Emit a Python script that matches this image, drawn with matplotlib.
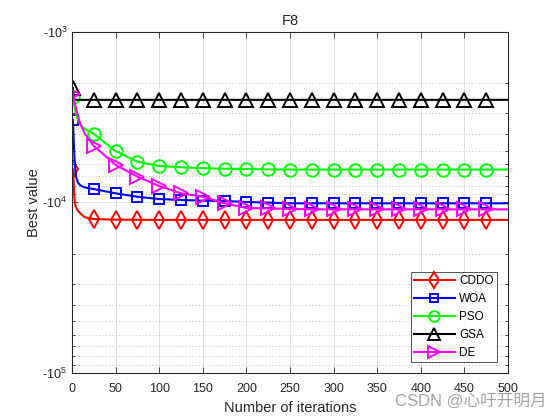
import matplotlib
matplotlib.use("Agg")
import matplotlib.pyplot as plt
from matplotlib.ticker import FixedLocator, LogLocator, NullFormatter

plt.rcParams['font.family'] = ['Liberation Sans', 'DejaVu Sans']
plt.rcParams['mathtext.fontset'] = 'custom'
plt.rcParams['mathtext.rm'] = 'Liberation Sans'
plt.rcParams['mathtext.it'] = 'Liberation Sans:italic'

# ---- data (best value per iteration) ----
iterations = [1, 2, 3, 4, 5, 7, 10, 15, 25, 50, 75, 100, 125, 150, 175, 200,
              225, 250, 275, 300, 325, 350, 375, 400, 425, 450, 475, 500]

cddo = [-6420, -7930, -9730, -10530, -10800, -11250, -11700, -12270, -12550,
        -12650, -12680, -12700, -12700, -12700, -12700, -12700, -12700, -12700,
        -12700, -12700, -12700, -12700, -12700, -12700, -12700, -12700, -12700, -12700]
woa = [-3300, -4400, -5700, -6700, -7200, -7700, -8000, -8200, -8370,
       -8870, -9290, -9580, -9700, -9800, -9830, -9980, -10050, -10150,
       -10150, -10150, -10150, -10150, -10150, -10150, -10150, -10150, -10150, -10150]
pso = [-2416, -2600, -2800, -2950, -3080, -3300, -3525, -3725, -3980,
       -5010, -5785, -6135, -6240, -6310, -6360, -6390, -6420, -6430,
       -6430, -6430, -6430, -6430, -6430, -6430, -6430, -6430, -6430, -6430]
gsa = [-2140, -2420, -2490, -2500, -2510, -2510, -2510, -2510, -2510,
       -2510, -2510, -2510, -2510, -2510, -2510, -2510, -2510, -2510,
       -2510, -2510, -2510, -2510, -2510, -2510, -2510, -2510, -2510, -2510]
de = [-2320, -2450, -2585, -2730, -2877, -3150, -3525, -3980, -4680,
      -6040, -7080, -8030, -8870, -9290, -10150, -10810, -10880, -10950,
      -11010, -11010, -11010, -11010, -11010, -11010, -11010, -11010, -11010, -11010]

series_names = ['CDDO', 'WOA', 'PSO', 'GSA', 'DE']
series_values = [cddo, woa, pso, gsa, de]
series_colors = ['#ff0000', '#0000ff', '#00ff00', '#000000', '#ff00ff']
series_markers = ['d', 's', 'o', '^', '>']
marker_sizes = [9, 7.5, 9, 9.5, 9.5]

marker_iters = [1] + list(range(25, 500, 25))
mark_idx = [i for i, it in enumerate(iterations) if it in marker_iters]

fig = plt.figure(figsize=(5.6, 4.2), dpi=100)
ax = fig.add_axes([0.1286, 0.1126, 0.7786, 0.8119])

for name, vals, c, m, ms in zip(series_names, series_values, series_colors,
                                series_markers, marker_sizes):
    ax.plot(iterations, [-v for v in vals], color=c, lw=1.5, marker=m,
            markersize=ms, markerfacecolor='none', markeredgecolor=c,
            markeredgewidth=1.4, markevery=mark_idx, label=name)

ax.set_yscale('log')
ax.set_ylim(1e5, 1e3)
ax.set_xlim(0, 500)

ax.xaxis.set_major_locator(FixedLocator(list(range(0, 501, 50))))
ax.yaxis.set_major_locator(FixedLocator([1e3, 1e4, 1e5]))
ax.yaxis.set_minor_locator(LogLocator(base=10, subs=range(2, 10)))
ax.yaxis.set_minor_formatter(NullFormatter())
ax.set_yticklabels([r'$\mathregular{\text{-}10^{3}}$', r'$\mathregular{\text{-}10^{4}}$',
                    r'$\mathregular{\text{-}10^{5}}$'])

ax.grid(True, which='major', axis='both', color='#dedede', lw=0.6, ls='-')
ax.grid(True, which='minor', axis='y', color='#b0b0b0', lw=0.6, ls=(0, (1, 3)))
ax.set_axisbelow(True)

ax.tick_params(which='both', direction='in', top=True, right=True,
               labelsize=9, colors='#262626', labelcolor='#262626')
ax.tick_params(which='major', length=4.5, width=0.6)
ax.tick_params(which='minor', length=2.5, width=0.6)
ax.tick_params(axis='x', which='major', pad=7.5)
for s in ax.spines.values():
    s.set_linewidth(0.8)
    s.set_color('#262626')

ax.set_title('F8', fontsize=10.5, color='#262626', pad=5)
ax.set_xlabel('Number of iterations', fontsize=10.5, color='#262626', labelpad=4)
ax.set_ylabel('Best value', fontsize=10.5, color='#262626', labelpad=1)

leg = ax.legend(loc='lower right', bbox_to_anchor=(0.974, 0.032), fontsize=8.5,
                handlelength=3.4, frameon=True, fancybox=False, borderaxespad=0,
                labelspacing=0.5, handletextpad=0.4, borderpad=0.25,
                markerscale=0.85)
leg.get_frame().set_edgecolor('#262626')
leg.get_frame().set_linewidth(0.7)

fig.text(0.705, 0.045, 'CSDN @心吁开明月', fontsize=12, color='#9a9a9a',
         alpha=0.9, va='center', ha='left',
         family=['Liberation Sans', 'Noto Sans CJK SC'])

fig.savefig('out.png', dpi=100)
